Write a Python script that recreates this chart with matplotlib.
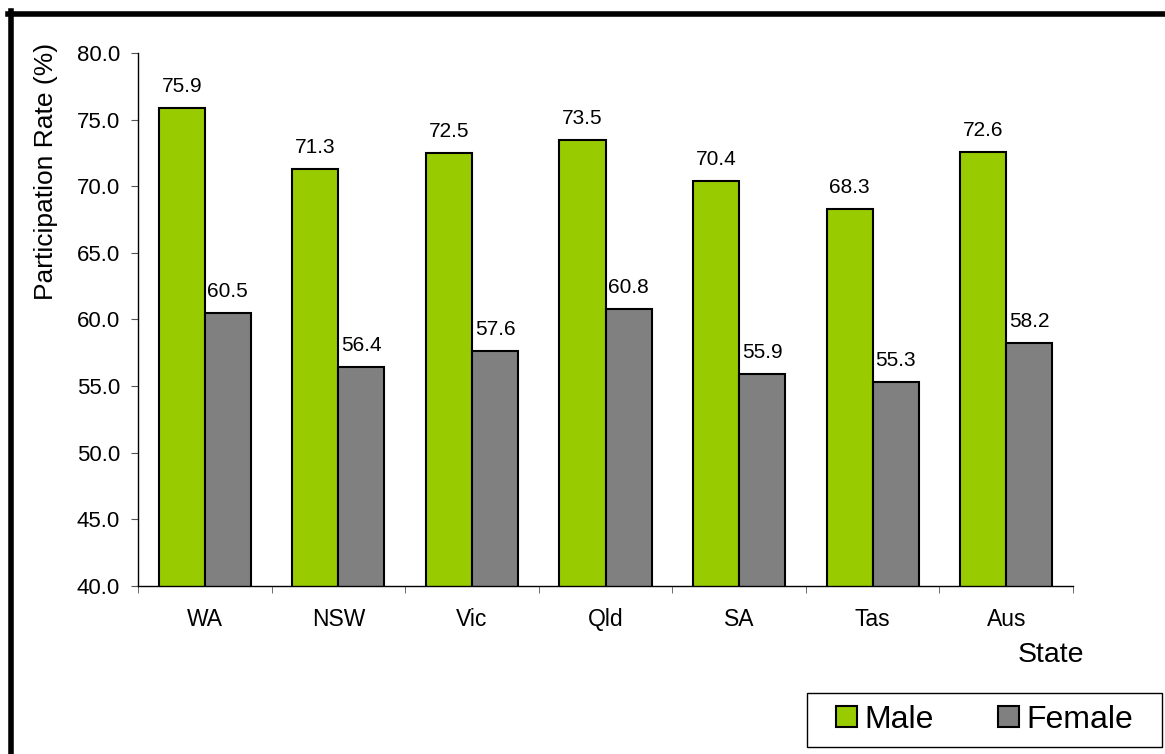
import matplotlib.pyplot as plt
import numpy as np
from matplotlib.lines import Line2D
from matplotlib.patches import Rectangle
from matplotlib import rcParams

rcParams['font.family'] = ['Liberation Sans', 'DejaVu Sans']

states = ["WA", "NSW", "Vic", "Qld", "SA", "Tas", "Aus"]
male = [75.9, 71.3, 72.5, 73.5, 70.4, 68.3, 72.6]
female = [60.5, 56.4, 57.6, 60.8, 55.9, 55.3, 58.2]
yticks = [40.0, 45.0, 50.0, 55.0, 60.0, 65.0, 70.0, 75.0, 80.0]

W, H = 1165, 754
fig = plt.figure(figsize=(W / 100, H / 100), dpi=100)
ax = fig.add_axes([138 / W, 1 - 586 / H, 935 / W, 533 / H])

x = np.arange(len(states))
w = 0.345
b1 = ax.bar(x - w / 2, male, w, color="#99CC00", edgecolor="black", linewidth=1.5, label="Male")
b2 = ax.bar(x + w / 2, female, w, color="#808080", edgecolor="black", linewidth=1.5, label="Female")

for bars, vals in ((b1, male), (b2, female)):
    for r, v in zip(bars, vals):
        ax.annotate(f"{v:.1f}", (r.get_x() + r.get_width() / 2, v),
                    xytext=(0, 16), textcoords="offset pixels",
                    ha="center", va="baseline", fontsize=15)

ax.set_ylim(40, 80)
ax.set_xlim(-0.5, len(states) - 0.5)
ax.set_yticks(yticks)
ax.set_yticklabels([f"{t:.1f}" for t in yticks], fontsize=16)
ax.set_xticks(x)
ax.set_xticklabels(states, fontsize=16.5)
ax.set_xticks(np.arange(len(states) + 1) - 0.5, minor=True)
ax.tick_params(axis="x", which="major", length=0, pad=16)
ax.tick_params(axis="x", which="minor", length=5, color="#555555")
ax.tick_params(axis="y", length=5, color="#555555", pad=8)
for s in ("top", "right"):
    ax.spines[s].set_visible(False)
for s in ("left", "bottom"):
    ax.spines[s].set_linewidth(1.0)

fig.text(46 / W, 1 - 171 / H, "Participation Rate (%)", rotation=90,
         ha="center", va="center", fontsize=19)
fig.text(1051 / W, 1 - 655 / H, "State", ha="center", va="center", fontsize=20.5)

# legend box drawn separately so it can be wider than its entries
fig.add_artist(Rectangle((807 / W, 1 - 747 / H), 355 / W, 54 / H,
                         transform=fig.transFigure, facecolor="white",
                         edgecolor="black", linewidth=1.0))
leg = fig.legend(handles=[b1, b2], loc="center", ncol=2,
                 bbox_to_anchor=(984.5 / W, 1 - 720 / H),
                 fontsize=23, frameon=False,
                 handlelength=0.65, handleheight=0.65, handletextpad=0.25,
                 columnspacing=2.0, borderpad=0, borderaxespad=0)

# frame lines along the left and top edges
fig.add_artist(Line2D([10.5 / W, 10.5 / W], [0, 1 - 11 / H],
                      transform=fig.transFigure, color="black", linewidth=4))
fig.add_artist(Line2D([8 / W, 1], [1 - 13.5 / H, 1 - 13.5 / H],
                      transform=fig.transFigure, color="black", linewidth=4))

fig.savefig("out.png", dpi=100)
